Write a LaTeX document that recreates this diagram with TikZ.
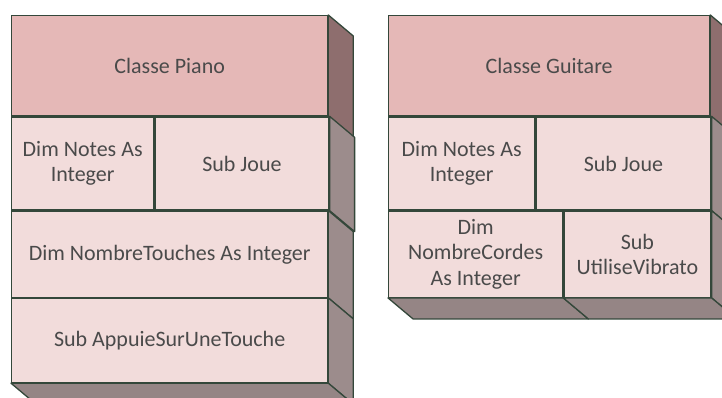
\documentclass[tikz,border=0pt]{standalone}
\usepackage{fontspec}
\setmainfont{Carlito}
\usetikzlibrary{positioning,calc}

\definecolor{titrefond}{HTML}{E5B8B7}
\definecolor{cellfond}{HTML}{F2DCDB}
\definecolor{trait}{HTML}{34473A}
\definecolor{texte}{HTML}{4A4A4A}
\definecolor{flanchaut}{HTML}{8E6E6E}
\definecolor{flancbas}{HTML}{9C8C8C}
\definecolor{socle}{HTML}{958585}

\tikzset{
  cell/.style={draw=trait, line width=1.3pt, fill=cellfond, text=texte, align=center,
    inner sep=0pt, anchor=north west, font=\fontsize{22}{25.5}\selectfont},
  titre/.style={cell, fill=titrefond},
  face/.style={draw=trait, line width=1.3pt, fill=#1, line join=round}
}
% faces en relief : flanc droit et dessous d'une case
\newcommand{\flanc}[2]{\filldraw[face=#2] (#1.north east) -- ++(25,21) -- ($(#1.south east)+(25,21)$) -- (#1.south east) -- cycle;}
\newcommand{\dessous}[1]{\filldraw[face=socle] (#1.south west) -- ++(25,21) -- ($(#1.south east)+(25,21)$) -- (#1.south east) -- cycle;}

\begin{document}
\begin{tikzpicture}[x=1pt,y=-1pt]
  \clip (0,0) rectangle (722,397);
  \fill[white] (0,0) rectangle (722,397);

  % Piano
  \node[titre, minimum width=316pt, minimum height=100pt] (pianoTitre) at (11,15) {Classe Piano};
  \node[cell, minimum width=142pt, minimum height=93pt] (pianoNotes) at (pianoTitre.south west) {Dim Notes As\\Integer};
  \node[cell, minimum width=174pt, minimum height=93pt] (pianoJoue) at (pianoNotes.north east) {Sub Joue};
  \node[cell, minimum width=316pt, minimum height=86pt] (pianoTouches) at (pianoNotes.south west) {Dim NombreTouches As Integer};
  \node[cell, minimum width=316pt, minimum height=84pt] (pianoAppuie) at (pianoTouches.south west) {Sub AppuieSurUneTouche};
  \flanc{pianoTitre}{flanchaut}
  \foreach \n in {pianoJoue,pianoTouches,pianoAppuie}{\flanc{\n}{flancbas}}
  \dessous{pianoAppuie}

  % Guitare
  \node[titre, minimum width=321pt, minimum height=100pt] (guitareTitre) at (388,15) {Classe Guitare};
  \node[cell, minimum width=146pt, minimum height=93pt] (guitareNotes) at (guitareTitre.south west) {Dim Notes As\\Integer};
  \node[cell, minimum width=175pt, minimum height=93pt] (guitareJoue) at (guitareNotes.north east) {Sub Joue};
  \node[cell, minimum width=174pt, minimum height=86pt] (guitareCordes) at (guitareNotes.south west) {Dim\\NombreCordes\\As Integer};
  \node[cell, minimum width=147pt, minimum height=86pt] (guitareVibrato) at (guitareCordes.north east) {Sub\\UtiliseVibrato};
  \flanc{guitareTitre}{flanchaut}
  \foreach \n in {guitareJoue,guitareVibrato}{\flanc{\n}{flancbas}}
  \foreach \n in {guitareCordes,guitareVibrato}{\dessous{\n}}
\end{tikzpicture}
\end{document}
